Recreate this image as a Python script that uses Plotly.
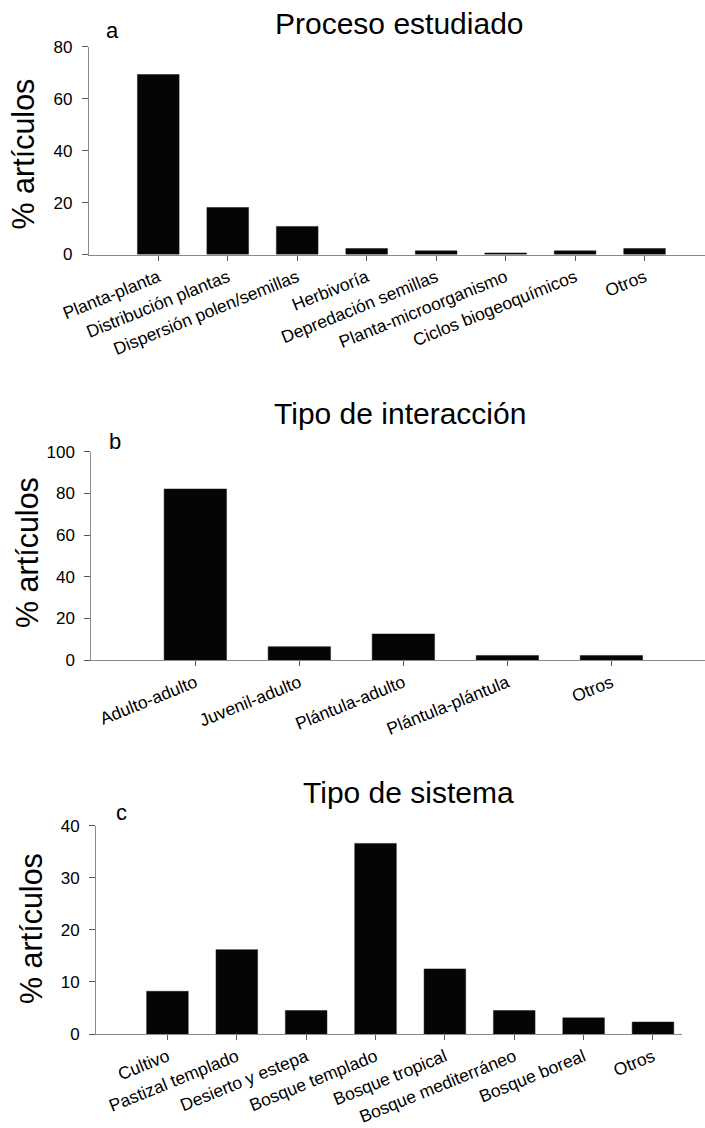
import plotly.graph_objects as go

# ---- data ----
cat_a = ["Planta-planta", "Distribución plantas", "Dispersión polen/semillas", "Herbivoría",
         "Depredación semillas", "Planta-microorganismo", "Ciclos biogeoquímicos", "Otros"]
val_a = [69.3, 18.1, 10.8, 2.3, 1.4, 0.6, 1.4, 2.3]

cat_b = ["Adulto-adulto", "Juvenil-adulto", "Plántula-adulto", "Plántula-plántula", "Otros"]
val_b = [82.1, 6.4, 12.5, 2.2, 2.2]

cat_c = ["Cultivo", "Pastizal templado", "Desierto y estepa", "Bosque templado",
         "Bosque tropical", "Bosque mediterráneo", "Bosque boreal", "Otros"]
val_c = [8.2, 16.2, 4.5, 36.6, 12.5, 4.5, 3.1, 2.3]

titles = ["Proceso estudiado", "Tipo de interacción", "Tipo de sistema"]
letters = ["a", "b", "c"]
ytitle = "% artículos"
yticks_a = [0, 20, 40, 60, 80]
yticks_b = [0, 20, 40, 60, 80, 100]
yticks_c = [0, 10, 20, 30, 40]

W, H = 705, 1128
FONT = "Liberation Sans, Arial, sans-serif"

def px(x):
    return x / W

def py(y):
    return (H - y) / H

fig = go.Figure()

panels = [
    dict(cats=cat_a, vals=val_a, xd=[px(88.8), 1.0], yd=[py(254.5), py(46.7)],
         xr=[-1.0, 7.87], yr=[0, 80], yt=yticks_a,
         title_xy=(399, 23.3), letter_xy=(112, 30.7), ylab_xy=(22.5, 154)),
    dict(cats=cat_b, vals=val_b, xd=[px(91.3), 1.0], yd=[py(660), py(451.7)],
         xr=[-1.0, 4.9], yr=[0, 100], yt=yticks_b,
         title_xy=(400, 413.5), letter_xy=(115, 441), ylab_xy=(27, 553)),
    dict(cats=cat_c, vals=val_c, xd=[px(96), px(682.1)], yd=[py(1034), py(825.7)],
         xr=[-1.03, 7.42], yr=[0, 40], yt=yticks_c,
         title_xy=(409, 792.5), letter_xy=(121, 812), ylab_xy=(31, 929)),
]

annotations = []
for i, p in enumerate(panels):
    n = i + 1
    xa = "x" if n == 1 else f"x{n}"
    ya = "y" if n == 1 else f"y{n}"
    fig.add_trace(go.Bar(
        x=list(range(len(p["cats"]))), y=p["vals"], width=0.6,
        marker=dict(color="#050505", line=dict(color="#1a1a1a", width=0.5)),
        xaxis=xa, yaxis=ya, showlegend=False, hoverinfo="skip"))
    xkey = "xaxis" if n == 1 else f"xaxis{n}"
    ykey = "yaxis" if n == 1 else f"yaxis{n}"
    fig.update_layout(**{
        xkey: dict(domain=p["xd"], range=p["xr"], anchor=ya, automargin=False,
                   tickmode="array", tickvals=list(range(len(p["cats"]))),
                   ticktext=p["cats"], tickangle=-22,
                   showline=True, linecolor="#8a8a8a", linewidth=1,
                   ticks="outside", ticklen=5, tickcolor="#555555", tickwidth=1,
                   showgrid=False, zeroline=False,
                   tickfont=dict(family=FONT, size=17.5, color="#000000"),
                   fixedrange=True),
        ykey: dict(domain=p["yd"], range=p["yr"], anchor=xa, automargin=False,
                   tickmode="array", tickvals=p["yt"],
                   showline=True, linecolor="#8a8a8a", linewidth=1,
                   ticks="outside", ticklen=6, tickcolor="#555555", tickwidth=1,
                   showgrid=False, zeroline=False, ticklabelstandoff=6,
                   tickfont=dict(family=FONT, size=17, color="#000000"),
                   fixedrange=True),
    })
    tx, ty = p["title_xy"]
    annotations.append(dict(text=titles[i], x=px(tx), y=py(ty), xref="paper", yref="paper",
                            xanchor="center", yanchor="middle", showarrow=False,
                            font=dict(family=FONT, size=30, color="#000000")))
    lx, ly = p["letter_xy"]
    annotations.append(dict(text=letters[i], x=px(lx), y=py(ly), xref="paper", yref="paper",
                            xanchor="center", yanchor="middle", showarrow=False,
                            font=dict(family=FONT, size=22, color="#000000")))
    ax_, ay_ = p["ylab_xy"]
    annotations.append(dict(text=ytitle, x=px(ax_), y=py(ay_), xref="paper", yref="paper",
                            xanchor="center", yanchor="middle", showarrow=False, textangle=-90,
                            font=dict(family=FONT, size=30.5, color="#000000")))

fig.update_layout(template="none", width=W, height=H, margin=dict(l=0, r=0, t=0, b=0, pad=0),
                  paper_bgcolor="white", plot_bgcolor="white",
                  annotations=annotations, bargap=0.4)

fig.write_html("out.html", config={"displayModeBar": False, "staticPlot": True},
               post_script="document.body.style.margin='0';document.body.style.overflow='hidden';")
